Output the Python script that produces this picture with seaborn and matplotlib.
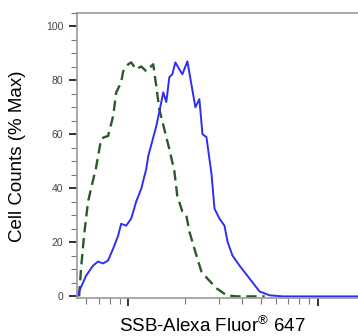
import numpy as np
import pandas as pd
import seaborn as sns
import matplotlib.pyplot as plt
from matplotlib.ticker import MultipleLocator, LogLocator, NullFormatter

# SSB-Alexa Fluor 647 stained (solid blue)
blue_x = [537, 551, 600, 653, 693, 737, 783, 833, 885, 918, 976, 1037, 1102, 1172,
          1245, 1276, 1407, 1459, 1531, 1589, 1648, 1710, 1773, 1862, 1931, 2053,
          2154, 2261, 2374, 2464, 2587, 2750, 2853, 3031, 3220, 3342, 3550, 3866,
          4367, 4934, 5573, 6531, 16300]
blue_y = [0, 1.8, 7.7, 11.4, 12.9, 12.2, 13.3, 17.7, 22.5, 26.9, 26.2, 28.8, 35.1, 39.9,
          47.2, 52.0, 63.1, 68.3, 75.6, 72.0, 81.2, 82.3, 86.7, 84.1, 82.3, 87.1,
          78.6, 70.1, 73.1, 60.1, 59.0, 45.4, 32.5, 28.8, 26.2, 20.3, 15.1, 11.4,
          6.6, 1.8, 0.4, 0, 0]

# control (dashed green)
green_x = [551, 564, 585, 614, 678, 720, 747, 783, 833, 865, 918, 941, 1000, 1037,
           1102, 1172, 1245, 1355, 1407, 1459, 1550, 1648, 1751, 1815, 1931, 2027,
           2103, 2291, 2434, 2617, 2924, 3303, 3727, 5248]
green_y = [0, 10.3, 22.5, 35.1, 48.0, 58.3, 59.0, 59.4, 66.8, 75.6, 79.3, 83.4, 86.0, 86.7,
           84.1, 85.2, 83.4, 86.0, 77.9, 69.4, 62.0, 54.6, 46.5, 37.3, 31.4, 29.9,
           24.0, 15.1, 9.2, 6.6, 3.0, 0.4, 0, 0]

y_ticks = [0, 20, 40, 60, 80, 100]

sns.set_style("ticks")
plt.rcParams['font.family'] = ['Liberation Sans', 'DejaVu Sans']

fig = plt.figure(figsize=(3.58, 3.36), dpi=100)
ax = fig.add_axes([77 / 358, 38 / 336, 1 - 77 / 358, 285 / 336])

blue = pd.DataFrame({'x': blue_x, 'y': blue_y})
green = pd.DataFrame({'x': green_x, 'y': green_y})

sns.lineplot(data=green, x='x', y='y', ax=ax, color='#2b5a2b', linewidth=1.7,
             estimator=None, sort=False)
ax.lines[-1].set_dashes((4.4, 2.4))
sns.lineplot(data=blue, x='x', y='y', ax=ax, color='#2f2ff0', linewidth=1.4,
             estimator=None, sort=False)

ax.set_xscale('log')
ax.set_xlim(537, 16300)
ax.set_ylim(-0.6, 105)

ax.set_yticks(y_ticks)
ax.set_yticklabels([str(t) for t in y_ticks], fontsize=7.5, color='#444444')
ax.yaxis.set_minor_locator(MultipleLocator(5))
ax.xaxis.set_major_locator(LogLocator(base=10))
ax.xaxis.set_minor_locator(LogLocator(base=10, subs=np.arange(2, 10)))
ax.xaxis.set_major_formatter(NullFormatter())
ax.xaxis.set_minor_formatter(NullFormatter())

ax.tick_params(axis='y', which='major', length=6, width=1.4, color='#333333', pad=4)
ax.tick_params(axis='y', which='minor', length=4, width=0.8, color='#777777')
ax.tick_params(axis='x', which='major', length=6, width=1.4, color='#333333')
ax.tick_params(axis='x', which='minor', length=4, width=0.8, color='#777777')

for side in ['left', 'bottom', 'top']:
    ax.spines[side].set_color('#999999')
    ax.spines[side].set_linewidth(1.2)
ax.spines['right'].set_visible(False)

ax.set_xlabel('SSB-Alexa Fluor$^{\\mathregular{®}}$ 647', fontsize=13.5, color='black',
              va='baseline')
ax.xaxis.set_label_coords(0.48, -0.12)
ax.set_ylabel('Cell Counts (% Max)', fontsize=13.5, color='black', va='center')
ax.yaxis.set_label_coords(-0.212, 0.496)

fig.savefig('out.png', dpi=100)
